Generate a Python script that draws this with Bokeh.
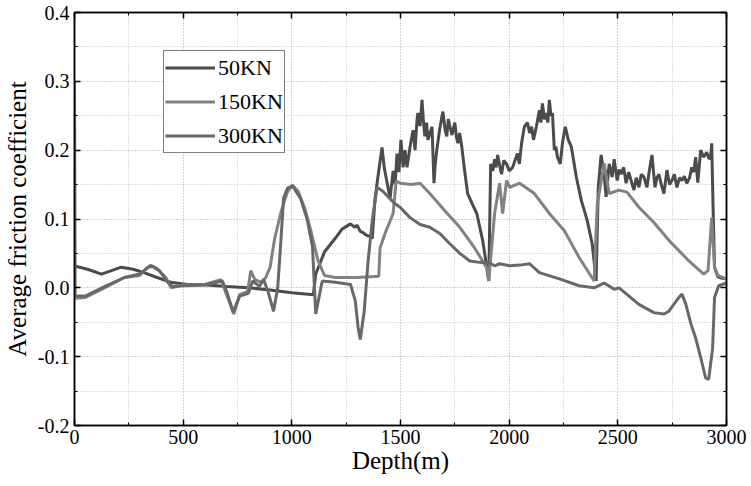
from bokeh.plotting import figure
from bokeh.models import (FixedTicker, LinearAxis, NumeralTickFormatter, Range1d,
                          Legend, LegendItem)
from bokeh.embed import file_html
from bokeh.resources import INLINE

# ---------------- data ----------------
x_ticks = [0, 500, 1000, 1500, 2000, 2500, 3000]
y_ticks = [-0.2, -0.1, 0.0, 0.1, 0.2, 0.3, 0.4]
series_names = ["50KN", "150KN", "300KN"]

d50_x = [0, 9, 60, 124, 170, 215, 270, 320, 380, 444, 520, 580, 700, 800, 900, 1000,
         1099, 1110, 1150, 1200, 1230, 1255, 1270, 1290, 1300, 1315, 1330, 1340, 1355, 1370,
         1383, 1400, 1415, 1425, 1434, 1452, 1466, 1475, 1484, 1493, 1502, 1512, 1521, 1530,
         1544, 1558, 1567, 1576, 1580, 1590, 1599, 1605, 1612, 1620, 1626, 1636, 1645, 1654,
         1660, 1667, 1680, 1695, 1705, 1713, 1720, 1727, 1737, 1750, 1757, 1764, 1772, 1782,
         1795, 1809, 1830, 1851, 1878, 1897, 1906, 1915, 1925, 1933, 1940, 1947, 1956, 1965,
         1975, 1988, 2000, 2016, 2027, 2038, 2047, 2057, 2070, 2084, 2094, 2103, 2112, 2125,
         2139, 2146, 2153, 2162, 2171, 2178, 2185, 2192, 2199, 2208, 2215, 2222, 2235, 2245,
         2258, 2265, 2272, 2286, 2309, 2332, 2359, 2382, 2400, 2410, 2423, 2437, 2446, 2460,
         2474, 2483, 2497, 2506, 2515, 2527, 2538, 2550, 2561, 2574, 2585, 2597, 2608, 2620,
         2634, 2645, 2657, 2671, 2680, 2689, 2700, 2712, 2726, 2738, 2749, 2760, 2772, 2784,
         2795, 2806, 2817, 2830, 2840, 2850, 2858, 2868, 2881, 2895, 2909, 2920, 2927, 2932,
         2938, 2945, 2960, 2980, 3000]
d50_y = [0.030, 0.031, 0.027, 0.020, 0.025, 0.030, 0.027, 0.022, 0.015, 0.008, 0.005, 0.005, 0.002, 0.000, -0.003, -0.007,
         -0.010, 0.020, 0.052, 0.072, 0.085, 0.090, 0.093, 0.088, 0.091, 0.082, 0.080, 0.077, 0.075, 0.072,
         0.130, 0.170, 0.204, 0.175, 0.160, 0.130, 0.170, 0.150, 0.195, 0.168, 0.215, 0.175, 0.200, 0.175,
         0.205, 0.229, 0.200, 0.244, 0.254, 0.235, 0.273, 0.245, 0.220, 0.240, 0.215, 0.225, 0.234, 0.152,
         0.180, 0.200, 0.230, 0.256, 0.230, 0.220, 0.245, 0.235, 0.222, 0.240, 0.220, 0.210, 0.225, 0.205,
         0.170, 0.137, 0.122, 0.108, 0.069, 0.030, 0.010, 0.180, 0.170, 0.187, 0.175, 0.193, 0.178, 0.165,
         0.185, 0.180, 0.170, 0.175, 0.185, 0.195, 0.180, 0.210, 0.234, 0.240, 0.225, 0.234, 0.215, 0.234,
         0.258, 0.240, 0.268, 0.245, 0.254, 0.240, 0.273, 0.250, 0.254, 0.200, 0.205, 0.190, 0.180, 0.210,
         0.234, 0.225, 0.215, 0.205, 0.161, 0.127, 0.098, 0.064, 0.010, 0.146, 0.193, 0.165, 0.132, 0.180,
         0.161, 0.187, 0.156, 0.172, 0.165, 0.175, 0.152, 0.168, 0.156, 0.142, 0.160, 0.146, 0.165, 0.161,
         0.146, 0.170, 0.193, 0.146, 0.160, 0.165, 0.150, 0.137, 0.171, 0.150, 0.156, 0.165, 0.146, 0.160,
         0.156, 0.162, 0.152, 0.160, 0.175, 0.168, 0.190, 0.153, 0.200, 0.190, 0.197, 0.187, 0.190, 0.210,
         0.120, 0.030, 0.016, 0.014, 0.013]

l150_x = [0, 50, 138, 229, 300, 330, 350, 380, 420, 445, 500, 600, 673, 700, 733,
          760, 797, 811, 830, 860, 880, 900, 920, 950, 980, 1003, 1030, 1060, 1090, 1120,
          1150, 1200, 1300, 1400, 1406, 1430, 1466, 1480, 1500, 1550, 1590, 1635, 1704, 1773, 1841,
          1897, 1906, 1933, 1956, 1970, 1988, 2002, 2048, 2116, 2185, 2254, 2322, 2391, 2405, 2437,
          2460, 2506, 2542, 2597, 2666, 2735, 2827, 2895, 2915, 2932, 2945, 2960, 3000]
l150_y = [-0.015, -0.014, 0.0, 0.015, 0.018, 0.028, 0.033, 0.028, 0.015, 0.0, 0.004, 0.005, 0.012, -0.01, -0.038,
          -0.01, -0.005, 0.025, 0.012, 0.008, 0.015, 0.03, 0.07, 0.11, 0.14, 0.149, 0.14, 0.115, 0.08, 0.04,
          0.018, 0.015, 0.015, 0.017, 0.058, 0.08, 0.108, 0.155, 0.152, 0.15, 0.152, 0.137, 0.112, 0.088, 0.058,
          0.029, 0.01, 0.108, 0.152, 0.108, 0.156, 0.146, 0.152, 0.137, 0.108, 0.083, 0.044, 0.01, 0.12, 0.181,
          0.137, 0.142, 0.139, 0.117, 0.095, 0.069, 0.039, 0.02, 0.025, 0.102, 0.03, 0.018, 0.013]

m300_x = [0, 3, 50, 140, 230, 300, 340, 360, 390, 430, 450, 500, 600, 680, 700,
          730, 760, 800, 820, 850, 870, 890, 916, 935, 950, 962, 980, 1003, 1040, 1070,
          1095, 1110, 1140, 1200, 1270, 1292, 1305, 1315, 1333, 1351, 1370, 1392, 1420, 1450, 1475,
          1498, 1544, 1590, 1635, 1681, 1727, 1773, 1819, 1864, 1910, 1933, 1956, 2002, 2048, 2094,
          2139, 2231, 2322, 2391, 2437, 2483, 2506, 2597, 2666, 2712, 2735, 2781, 2795, 2813, 2836,
          2859, 2882, 2904, 2918, 2936, 2945, 2964, 3000]
m300_y = [0.3, -0.012, -0.012, 0.002, 0.015, 0.02, 0.03, 0.031, 0.025, 0.008, 0.002, 0.003, 0.004, 0.01, -0.005,
          -0.035, -0.012, -0.008, 0.01, 0.002, 0.012, -0.005, -0.034, 0.0, 0.07, 0.13, 0.145, 0.148, 0.13, 0.1,
          0.06, -0.038, 0.01, 0.008, 0.005, -0.019, -0.058, -0.075, -0.034, 0.039, 0.098, 0.146, 0.14, 0.13, 0.122,
          0.117, 0.102, 0.092, 0.088, 0.079, 0.064, 0.05, 0.039, 0.037, 0.036, 0.032, 0.035, 0.032, 0.033, 0.035,
          0.022, 0.013, 0.003, 0.0, 0.007, -0.002, 0.0, -0.024, -0.036, -0.038, -0.034, -0.014, -0.009, -0.024, -0.052,
          -0.074, -0.102, -0.131, -0.133, -0.088, -0.014, 0.003, 0.007]

colors = ["#4b4b4b", "#828282", "#686868"]

# ---------------- figure ----------------
FONT = "Liberation Serif"
p = figure(width=748, height=485, output_backend="svg", toolbar_location=None,
           x_range=Range1d(0, 3000), y_range=Range1d(-0.2, 0.4),
           min_border_left=65, min_border_right=22, min_border_top=12, min_border_bottom=60)
p.background_fill_color = "white"
p.border_fill_color = "white"
p.outline_line_color = "black"
p.outline_line_width = 1.5

x_minor = [250 * i for i in range(13)]
y_minor = [round(-0.2 + 0.05 * i, 2) for i in range(13)]
xt = FixedTicker(ticks=x_ticks, minor_ticks=x_minor)
yt = FixedTicker(ticks=y_ticks, minor_ticks=y_minor)

for ax, t in ((p.xaxis[0], xt), (p.yaxis[0], yt)):
    ax.ticker = t
    ax.major_tick_in = 6
    ax.major_tick_out = 0
    ax.minor_tick_in = 3
    ax.minor_tick_out = 0
    ax.axis_line_width = 1.5
    ax.major_tick_line_width = 1.5
    ax.major_label_text_font = FONT
    ax.major_label_text_font_size = "20px"
    ax.major_label_text_color = "black"
    ax.axis_label_text_font = FONT
    ax.axis_label_text_font_size = "25px"
    ax.axis_label_text_font_style = "normal"
    ax.axis_label_text_color = "black"

p.yaxis[0].formatter = NumeralTickFormatter(format="0.0")
p.xaxis[0].axis_label = "Depth(m)"
p.yaxis[0].axis_label = "Average friction coefficient"
p.xaxis[0].major_label_standoff = 4
p.yaxis[0].major_label_standoff = 5
p.xaxis[0].axis_label_standoff = 0
p.yaxis[0].axis_label_standoff = 4

# mirrored axes (ticks only)
top = LinearAxis(ticker=FixedTicker(ticks=x_ticks, minor_ticks=x_minor))
right = LinearAxis(ticker=FixedTicker(ticks=y_ticks, minor_ticks=y_minor))
for ax in (top, right):
    ax.major_tick_in = 6
    ax.major_tick_out = 0
    ax.minor_tick_in = 3
    ax.minor_tick_out = 0
    ax.axis_line_width = 1.5
    ax.major_tick_line_width = 1.5
    ax.major_label_text_font_size = "0px"
    ax.major_label_text_color = None
    ax.major_label_standoff = 0
p.add_layout(top, "above")
p.add_layout(right, "right")

# grids (dotted, major and minor)
p.xgrid.ticker = xt
p.ygrid.ticker = yt
for g in (p.xgrid, p.ygrid):
    g.grid_line_color = "#c4c4c4"
    g.grid_line_dash = "1 2"
    g.grid_line_width = 1
    g.minor_grid_line_color = "#c4c4c4"
    g.minor_grid_line_dash = "1 2"
    g.minor_grid_line_width = 1

r1 = p.line(d50_x, d50_y, line_color=colors[0], line_width=3)
r2 = p.line(l150_x, l150_y, line_color=colors[1], line_width=3)
r3 = p.line(m300_x, m300_y, line_color=colors[2], line_width=3)

legend = Legend(items=[LegendItem(label=series_names[0], renderers=[r1]),
                       LegendItem(label=series_names[1], renderers=[r2]),
                       LegendItem(label=series_names[2], renderers=[r3])],
                location=(89, 272))
legend.label_text_font = FONT
legend.label_text_font_size = "22px"
legend.label_text_color = "black"
legend.glyph_width = 50
legend.glyph_height = 31
legend.label_height = 31
legend.label_standoff = 3
legend.spacing = 3
legend.padding = 1
legend.margin = 0
legend.border_line_color = "black"
legend.border_line_width = 1
legend.background_fill_alpha = 1
p.add_layout(legend, "center")

open("out.html", "w").write(file_html(p, INLINE))
